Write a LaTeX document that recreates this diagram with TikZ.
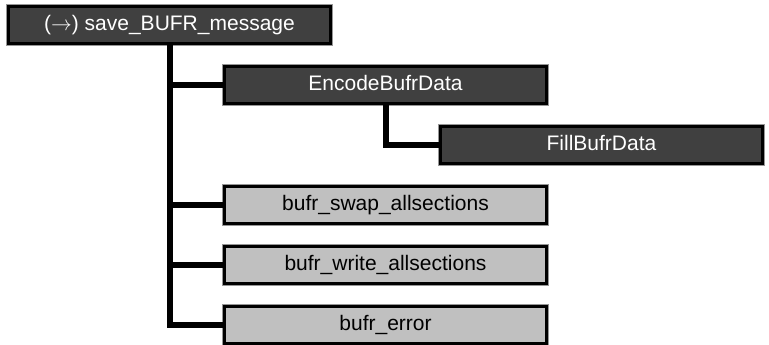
\documentclass[tikz,border=0pt]{standalone}
\usepackage{fontspec}
\setmainfont{Liberation Sans}
\definecolor{darkfill}{RGB}{64,64,64}
\definecolor{lightfill}{RGB}{192,192,192}
\definecolor{ringgray}{RGB}{150,150,150}
\tikzset{
  box/.style={rectangle, minimum width=322pt, minimum height=37pt, inner sep=0pt,
    line width=3pt, draw=black, text height=15pt, text depth=4pt,
    font=\fontsize{21}{25}\selectfont,
    preaction={draw=ringgray, line width=5pt}},
  darkbox/.style={box, fill=darkfill, text=white},
  lightbox/.style={box, fill=lightfill, text=black},
  conn/.style={line width=6pt, draw=black, line join=miter}
}
\begin{document}
\begin{tikzpicture}[x=1pt,y=-1pt]
\useasboundingbox (0,0) rectangle (769,345);
\node[darkbox] (root) at (169.5,25) {($\rightarrow$) save\_BUFR\_message};
\node[darkbox] (enc) at (385.5,85) {EncodeBufrData};
\node[darkbox] (fill) at (601.5,145) {FillBufrData};
\node[lightbox] (swap) at (385.5,205) {bufr\_swap\_allsections};
\node[lightbox] (write) at (385.5,265) {bufr\_write\_allsections};
\node[lightbox] (err) at (385.5,325) {bufr\_error};
\draw[conn] (root.south) |- (enc.west);
\draw[conn] (root.south) |- (swap.west);
\draw[conn] (root.south) |- (write.west);
\draw[conn] (root.south) |- (err.west);
\draw[conn] (enc.south) |- (fill.west);
\end{tikzpicture}
\end{document}
